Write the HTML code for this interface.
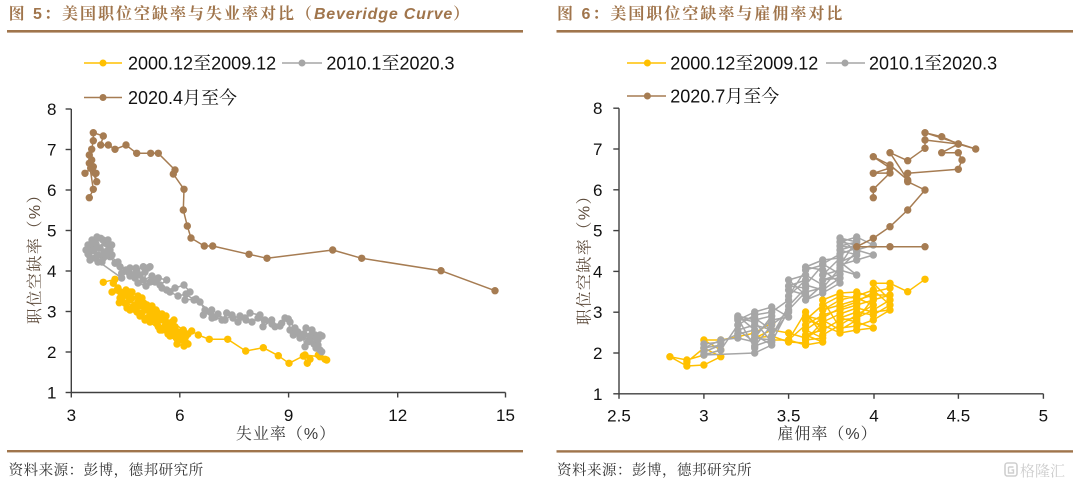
<!DOCTYPE html>
<html>
<head>
<meta charset="utf-8">
<style>
html,body{margin:0;padding:0;background:#fff;}
svg{display:block;}
text{font-family:"Liberation Sans","Noto Serif CJK SC",serif;}
</style>
</head>
<body>
<svg width="1080" height="486" viewBox="0 0 1080 486" xmlns="http://www.w3.org/2000/svg">
<defs>
<marker id="my" markerUnits="userSpaceOnUse" markerWidth="10" markerHeight="10" refX="5" refY="5"><circle cx="5" cy="5" r="3.7" fill="#ffc000"/></marker>
<marker id="mg" markerUnits="userSpaceOnUse" markerWidth="10" markerHeight="10" refX="5" refY="5"><circle cx="5" cy="5" r="3.7" fill="#a6a6a6"/></marker>
<marker id="mb" markerUnits="userSpaceOnUse" markerWidth="10" markerHeight="10" refX="5" refY="5"><circle cx="5" cy="5" r="3.7" fill="#a67c52"/></marker>
</defs>

<!-- Titles -->
<text x="8.6" y="19" font-size="16" font-weight="bold" fill="#a0754c" letter-spacing="2">图 5：美国职位空缺率与失业率对比（<tspan font-style="italic" letter-spacing="0.8">Beveridge Curve</tspan>）</text>
<rect x="7" y="30" width="516" height="2.6" fill="#a0754c"/>
<text x="557" y="19" font-size="16" font-weight="bold" fill="#a0754c" letter-spacing="2">图 6：美国职位空缺率与雇佣率对比</text>
<rect x="556.5" y="30" width="516.5" height="2.6" fill="#a0754c"/>

<!-- Legends left -->
<line x1="84" y1="63" x2="122" y2="63" stroke="#ffc000" stroke-width="1.6"/><circle cx="103" cy="63" r="3.5" fill="#ffc000"/>
<text x="128" y="69.3" font-size="18" fill="#111">2000.12至2009.12</text>
<line x1="282" y1="63" x2="322" y2="63" stroke="#a6a6a6" stroke-width="1.6"/><circle cx="302" cy="63" r="3.5" fill="#a6a6a6"/>
<text x="326.4" y="69.3" font-size="18" fill="#111">2010.1至2020.3</text>
<line x1="84" y1="97.5" x2="122" y2="97.5" stroke="#a67c52" stroke-width="1.6"/><circle cx="103" cy="97.5" r="3.5" fill="#a67c52"/>
<text x="128" y="103.8" font-size="18" fill="#111">2020.4月至今</text>

<!-- Legends right -->
<line x1="627" y1="63" x2="666" y2="63" stroke="#ffc000" stroke-width="1.6"/><circle cx="647.4" cy="63" r="3.5" fill="#ffc000"/>
<text x="670.2" y="69.3" font-size="18" fill="#111">2000.12至2009.12</text>
<line x1="826" y1="63" x2="865" y2="63" stroke="#a6a6a6" stroke-width="1.6"/><circle cx="845" cy="63" r="3.5" fill="#a6a6a6"/>
<text x="869" y="69.3" font-size="18" fill="#111">2010.1至2020.3</text>
<line x1="627" y1="96" x2="666" y2="96" stroke="#a67c52" stroke-width="1.6"/><circle cx="647.4" cy="96" r="3.5" fill="#a67c52"/>
<text x="670.2" y="102.3" font-size="18" fill="#111">2020.7月至今</text>

<!-- Left axes -->
<g stroke="#404040" stroke-width="1.4" fill="none">
<line x1="71.3" y1="109" x2="71.3" y2="392.5"/>
<line x1="71.3" y1="392.5" x2="505.5" y2="392.5"/>
<line x1="65.6" y1="109" x2="71.3" y2="109"/>
<line x1="65.6" y1="149.5" x2="71.3" y2="149.5"/>
<line x1="65.6" y1="190" x2="71.3" y2="190"/>
<line x1="65.6" y1="230.5" x2="71.3" y2="230.5"/>
<line x1="65.6" y1="271" x2="71.3" y2="271"/>
<line x1="65.6" y1="311.5" x2="71.3" y2="311.5"/>
<line x1="65.6" y1="352" x2="71.3" y2="352"/>
<line x1="65.6" y1="392.5" x2="71.3" y2="392.5"/>
<line x1="71.3" y1="392.5" x2="71.3" y2="397.5"/>
<line x1="179.8" y1="392.5" x2="179.8" y2="397.5"/>
<line x1="288.6" y1="392.5" x2="288.6" y2="397.5"/>
<line x1="397.7" y1="392.5" x2="397.7" y2="397.5"/>
<line x1="505.5" y1="392.5" x2="505.5" y2="397.5"/>
</g>
<g font-size="17" fill="#111" text-anchor="end">
<text x="56.5" y="115">8</text>
<text x="56.5" y="155.5">7</text>
<text x="56.5" y="196">6</text>
<text x="56.5" y="236.5">5</text>
<text x="56.5" y="277">4</text>
<text x="56.5" y="317.5">3</text>
<text x="56.5" y="358">2</text>
<text x="56.5" y="398.5">1</text>
</g>
<g font-size="17" fill="#111" text-anchor="middle">
<text x="71.3" y="421">3</text>
<text x="179.8" y="421">6</text>
<text x="288.6" y="421">9</text>
<text x="397.7" y="421">12</text>
<text x="505.5" y="421">15</text>
</g>
<text x="286" y="439" font-size="16" fill="#3a3a3a" text-anchor="middle" letter-spacing="1">失业率（%）</text>
<text transform="translate(40,255) rotate(-90)" x="0" y="0" font-size="16" fill="#5c4a3a" text-anchor="middle" letter-spacing="1.5">职位空缺率（%）</text>

<!-- Right axes -->
<g stroke="#404040" stroke-width="1.4" fill="none">
<line x1="619" y1="108.2" x2="619" y2="393.8"/>
<line x1="619" y1="393.8" x2="1043.4" y2="393.8"/>
<line x1="613.3" y1="108.2" x2="619" y2="108.2"/>
<line x1="613.3" y1="149" x2="619" y2="149"/>
<line x1="613.3" y1="189.8" x2="619" y2="189.8"/>
<line x1="613.3" y1="230.6" x2="619" y2="230.6"/>
<line x1="613.3" y1="271.4" x2="619" y2="271.4"/>
<line x1="613.3" y1="312.2" x2="619" y2="312.2"/>
<line x1="613.3" y1="353" x2="619" y2="353"/>
<line x1="613.3" y1="393.8" x2="619" y2="393.8"/>
<line x1="619" y1="393.8" x2="619" y2="398.8"/>
<line x1="703.9" y1="393.8" x2="703.9" y2="398.8"/>
<line x1="788.6" y1="393.8" x2="788.6" y2="398.8"/>
<line x1="874" y1="393.8" x2="874" y2="398.8"/>
<line x1="958.4" y1="393.8" x2="958.4" y2="398.8"/>
<line x1="1043.4" y1="393.8" x2="1043.4" y2="398.8"/>
</g>
<g font-size="17" fill="#111" text-anchor="end">
<text x="602.5" y="114.2">8</text>
<text x="602.5" y="155">7</text>
<text x="602.5" y="195.8">6</text>
<text x="602.5" y="236.6">5</text>
<text x="602.5" y="277.4">4</text>
<text x="602.5" y="318.2">3</text>
<text x="602.5" y="359">2</text>
<text x="602.5" y="399.8">1</text>
</g>
<g font-size="17" fill="#111" text-anchor="middle">
<text x="619" y="421.5">2.5</text>
<text x="703.9" y="421.5">3</text>
<text x="788.6" y="421.5">3.5</text>
<text x="874" y="421.5">4</text>
<text x="958.4" y="421.5">4.5</text>
<text x="1043.4" y="421.5">5</text>
</g>
<text x="827.5" y="439" font-size="16" fill="#3a3a3a" text-anchor="middle" letter-spacing="1">雇佣率（%）</text>
<text transform="translate(589.5,256) rotate(-90)" x="0" y="0" font-size="16" fill="#5c4a3a" text-anchor="middle" letter-spacing="1.5">职位空缺率（%）</text>

<!-- Left series: yellow -->
<g fill="none" stroke="#ffc000" stroke-width="1.5" stroke-linejoin="round">
<polyline marker-start="url(#my)" marker-mid="url(#my)" marker-end="url(#my)"
points="103.3,282.3 115,279.3 113.3,283.3 120,291.7 119.3,302.7 128.3,296 125,303.3 131.7,298.3 133.3,306.7 122,300 130,292 138,302 143.3,303.3 141.7,313.3 135,308 150,310 145,320 152,316 156.7,311.7 160,316.7 158.3,326.7 150,318 163,320 166.7,323.3 170,330 162,330 175,326.7 176.7,336.7 168,334 183.3,330 172,322 185,338.3 178,332 186.7,343.3 180,340 188,334 191.7,331 198.3,335 209.3,339.3 227.7,339.3 245.7,351 263.3,347.7 278.3,355.7 289,363.3 303.3,356 307.3,363.3 310,359.3 305,355 320,356.7 325,359.3 318.3,355 326.7,360"/>
<polyline marker-start="url(#my)" marker-mid="url(#my)" marker-end="url(#my)"
points="112,292 118,288 123,295 126,290 130,300 135,305 140,306 138,296 145,310 150,314 147,305 155,318 160,320 156,310 165,326 170,325 166,316 175,332 178,338 174,320 183,340 186,336 188,344 181,333 170,336 160,330 150,322 140,316 130,310 120,298 117,290 127,308 137,312 147,318 157,324 167,330 177,344 184,346 172,328 162,314 152,306 142,298 132,292"/>
</g>
<!-- Left series: gray -->
<g fill="none" stroke="#a6a6a6" stroke-width="1.5" stroke-linejoin="round">
<polyline marker-start="url(#mg)" marker-mid="url(#mg)" marker-end="url(#mg)"
points="320,350 321.7,351.7 318,345 322,336 315,335 320,335 310,340 308.3,341.7 305,346.7 303.3,336.7 293.3,335 290,330 288.3,319 281.7,323.3 275,326.7 271.7,320 263,326.7 260,315 250,313 246,320 240,316 233,318 226.7,313 222,320 215,317 211.7,310 203.3,315 210,312 196,299 185,300 190,292 184,285 175,288 166.7,290 160,285 166.7,280 158.3,278 150,282 152,276 143.3,280 150,266.7 143.3,266.7 136.7,270 133.3,275 130,268 121.7,273.3 120,266.7 115,263.3 110,256.7 103.3,258 98,255 88.3,251.7 93,246 100.7,238.3 105,243 111.7,245 108.3,250 98,262 88,254 121.7,278"/>
<polyline marker-start="url(#mg)" marker-mid="url(#mg)" marker-end="url(#mg)"
points="88,245 92,240 97,237 103,240 107,244 110,250 105,255 95,258 89,255 100,248 94,250 108,240 112,255 102,262 90,260 86,250 96,244 104,252 118,262 126,270 130,276 136,268 140,275 145,272 148,268 135,278 128,272 138,283 146,286 155,282 162,288 170,292 178,296 186,294 194,300 200,302 205,310 212,318 218,314 225,320 232,315 238,322 245,318 252,322 258,318 265,320 272,324 280,326 285,318 290,322 295,328 298,332 304,334 310,336 314,344 316,348 312,330 306,328 300,338 318,340"/>
</g>
<!-- Left series: brown -->
<polyline fill="none" stroke="#a67c52" stroke-width="1.5" stroke-linejoin="round" marker-start="url(#mb)" marker-mid="url(#mb)" marker-end="url(#mb)"
points="495,290.7 441,270.7 361.7,258.3 332.7,250 267,258.3 249,254.3 212.7,246 204.3,246 191,238 187.3,226 183.3,210 184,189.3 173.3,174 175,170 158.3,153.3 150.7,153.3 136.7,153.3 126,145 115,149.3 108.3,145 100.7,145 103.3,136 93.3,132.7 93.3,140.7 91.7,149.3 89.3,155 90,163.3 95,173.3 91.7,160 96,173.3 90.7,168.3 85,173.3 93.3,166.7 96.7,181.7 89.3,163.3 93.3,189.3 89.3,197.7"/>

<!-- Right series: yellow -->
<g fill="none" stroke="#ffc000" stroke-width="1.5" stroke-linejoin="round">
<polyline marker-start="url(#my)" marker-mid="url(#my)" marker-end="url(#my)"
points="925,279.3 907.7,291.7 890,283.3 873.3,283.3 890,300 873.3,310 856.7,318 840,320 822.7,330 805.6,335 822.7,342 805.6,345 788.6,340 805.6,325 822.7,315 840,310 856.7,305 873.3,300 890,295 873.3,295 856.7,300 840,305 822.7,310 840,300 856.7,296 873.3,290 890,305 873.3,315 856.7,312 840,318 856.7,322 873.3,328 856.7,330 840,333 822.7,325 805.6,320 822.7,305 840,296 856.7,298 873.3,305 856.7,315 840,325 822.7,335 805.6,312 788.6,340 771.7,340 771.7,323 754.7,333 737.8,336.7 720.8,340 703.9,340 720.8,350 703.9,355 686.9,360 669.9,356.7 686.9,366 703.9,365 720.8,356.7 703.9,348 686.9,362"/>
<polyline marker-start="url(#my)" marker-mid="url(#my)" marker-end="url(#my)"
points="890,288 873.3,292 856.7,302 840,308 822.7,318 805.6,330 822.7,338 805.6,340 822.7,322 840,314 856.7,308 873.3,312 890,310 873.3,320 856.7,326 840,328 822.7,300 840,293 856.7,292 873.3,298 856.7,320 840,330 822.7,320 805.6,316 822.7,328 805.6,338 788.6,333 771.7,330 754.7,338 771.7,336 788.6,342 805.6,343"/>
</g>
<!-- Right series: gray -->
<g fill="none" stroke="#a6a6a6" stroke-width="1.5" stroke-linejoin="round">
<polyline marker-start="url(#mg)" marker-mid="url(#mg)" marker-end="url(#mg)"
points="703.9,352 720.8,345 703.9,348 720.8,340 737.8,338 754.7,342 737.8,330 754.7,325 771.7,330 754.7,318 737.8,320 754.7,312 771.7,307 788.6,317 771.7,320 754.7,335 771.7,345 754.7,353 703.9,355 720.8,350 737.8,325 754.7,315 771.7,312 788.6,300 788.6,290 805.6,295 788.6,280 805.6,275 822.7,285 805.6,300 822.7,293 840,283 822.7,270 805.6,267 822.7,260 840,258 822.7,275 840,270 856.7,275 840,262 856.7,255 840,250 856.7,245 840,242 856.7,237 873.3,245 856.7,250 873.3,255 856.7,260 840,265 856.7,240"/>
<polyline marker-start="url(#mg)" marker-mid="url(#mg)" marker-end="url(#mg)"
points="703.9,344 720.8,342 737.8,334 754.7,330 737.8,316 754.7,320 771.7,316 754.7,338 771.7,340 754.7,346 771.7,325 788.6,312 771.7,336 788.6,306 805.6,288 788.6,286 805.6,280 788.6,296 805.6,270 822.7,265 805.6,285 822.7,290 840,278 822.7,280 840,274 822.7,264 840,254 856.7,248 840,246 856.7,242 840,238 856.7,252 840,268 822.7,288 805.6,292 788.6,310 771.7,342 754.7,322 737.8,318 754.7,348"/>
</g>
<!-- Right series: brown -->
<polyline fill="none" stroke="#a67c52" stroke-width="1.5" stroke-linejoin="round" marker-start="url(#mb)" marker-mid="url(#mb)" marker-end="url(#mb)"
points="925,246.7 890,246.7 856.7,246.7 873.3,238.3 890,226.7 907.7,210 925,190 907.7,181.7 907.7,173.3 958.3,169.3 962,160 958.3,152.7 941.7,152.7 958.3,144 975.7,149 925,132.7 941.7,136.7 958.3,144 925,140 925,148.3 907.7,160.7 890,152.7 907.7,180 890,165 873.3,156.7 890,168 873.3,173.3 890,173 873.3,189.3 873.3,197.7"/>

<!-- Bottom rules and sources -->
<rect x="7" y="450" width="516" height="2.4" fill="#a0754c"/>
<rect x="556.5" y="450.2" width="516.5" height="2.4" fill="#a0754c"/>
<text x="8.6" y="475" font-size="14.5" fill="#333" letter-spacing="0.5">资料来源：彭博，德邦研究所</text>
<text x="557" y="475" font-size="14.5" fill="#333" letter-spacing="0.5">资料来源：彭博，德邦研究所</text>

<!-- Watermark -->
<rect x="1005" y="463" width="12" height="13" rx="2.5" fill="none" stroke="#cfcfcf" stroke-width="1.6"/>
<path d="M1008.5 467 h5 M1008.5 467 v6 h5 v-3 h-2" fill="none" stroke="#cfcfcf" stroke-width="1.4"/>
<text x="1020" y="476" font-size="15" fill="#cdcdcd">格隆汇</text>
</svg>
</body>
</html>
